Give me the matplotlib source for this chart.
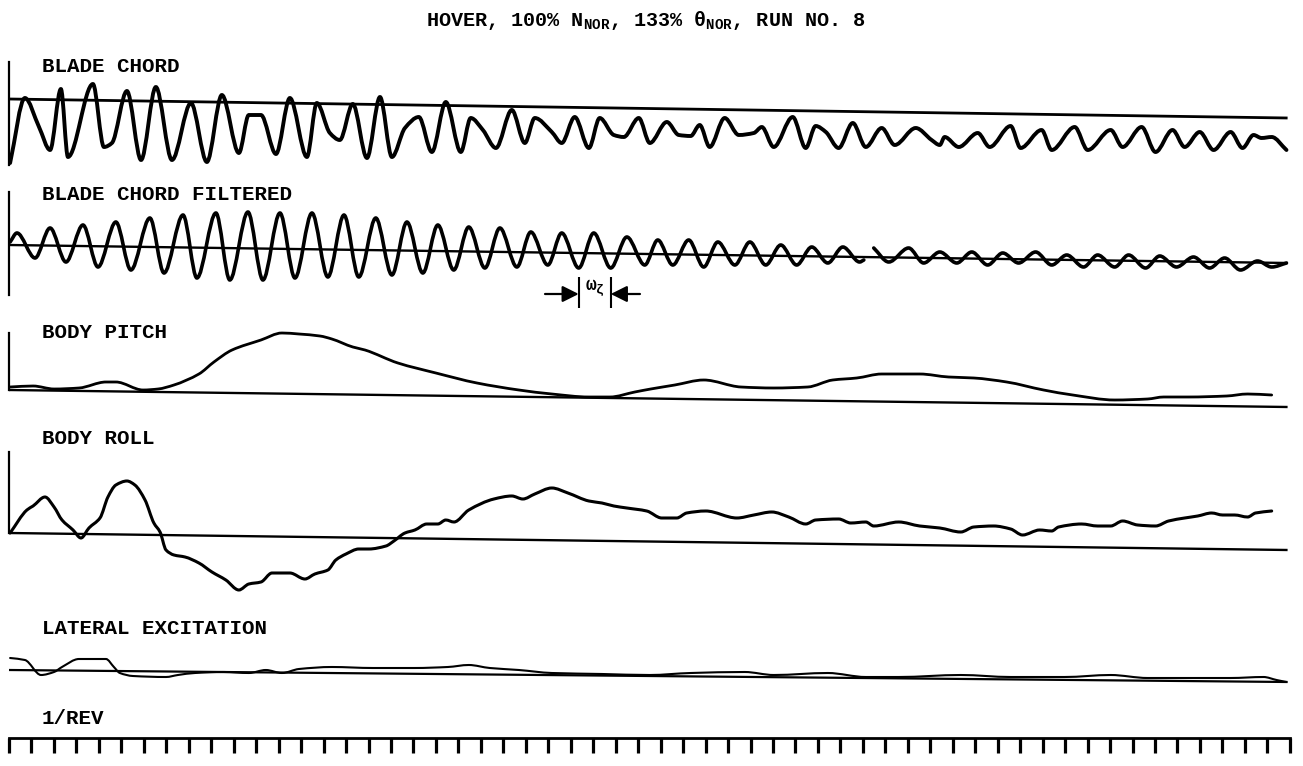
import numpy as np
import matplotlib.pyplot as plt
from matplotlib.path import Path
from matplotlib.patches import PathPatch

plt.rcParams['font.family'] = ['Liberation Mono', 'DejaVu Sans Mono']
plt.rcParams['mathtext.fontset'] = 'custom'
plt.rcParams['mathtext.rm'] = 'Liberation Mono:bold'
plt.rcParams['mathtext.it'] = 'Liberation Mono:bold'
plt.rcParams['mathtext.bf'] = 'Liberation Mono:bold'

# trace times were read on a 58-division grid of the record; the 1/REV trace has 57 revs
REC_TO_REV = 57 / 58
N_REV = 57
REVS = np.arange(N_REV + 1)

# blade chord (raw)
BLADE_T = [0.05, 0.72, 1.36, 1.86, 2.35, 2.67, 3.80, 4.30, 4.66, 5.34,
           5.98, 6.65, 7.38, 8.24, 8.96, 9.64, 10.41, 10.86, 11.41, 12.09,
           12.72, 13.49, 13.94, 14.53, 14.98, 15.57, 16.21, 16.80, 17.34, 17.93,
           18.56, 19.15, 19.78, 20.46, 20.91, 21.46, 22.05, 22.77, 23.36, 23.81,
           24.58, 25.03, 25.62, 26.26, 26.75, 27.39, 27.84, 28.52, 29.02, 29.79,
           30.33, 30.87, 31.28, 31.73, 32.41, 33.05, 33.73, 34.09, 34.63, 35.49,
           36.08, 36.53, 36.99, 37.57, 38.21, 38.80, 39.52, 40.11, 41.06, 41.78,
           42.15, 42.37, 43.01, 43.87, 44.41, 45.36, 45.81, 46.76, 47.22, 48.26,
           48.85, 49.89, 50.43, 51.29, 51.92, 52.69, 53.24, 53.92, 54.55, 55.32,
           55.86, 56.36, 56.72, 57.18, 57.85]
BLADE_D = [-64, 1, -28, -51, 10, -58, 15, -48, -44, 8,
           -61, 12, -61, -4, -63, 4, -54, -16, -16, -55,
           1, -58, -4, -34, -41, -5, -59, 2, -58, -29,
           -18, -53, -3, -53, -19, -31, -49, -11, -44, -19,
           -33, -44, -18, -49, -19, -36, -38, -19, -44, -23,
           -36, -37, -26, -48, -19, -36, -34, -28, -48, -18,
           -49, -27, -33, -49, -24, -48, -29, -46, -29, -41,
           -46, -38, -48, -34, -48, -27, -49, -31, -51, -28,
           -51, -31, -48, -28, -53, -31, -48, -33, -51, -33,
           -49, -36, -39, -38, -51]
BLADE_BASE = [0, -19]

# blade chord filtered (nan = break in the trace)
FILT_T = [0.05, 0.36, 1.18, 1.86, 2.58, 3.35, 4.03, 4.84, 5.52, 6.38,
          7.02, 7.88, 8.51, 9.37, 10.00, 10.82, 11.50, 12.27, 12.95, 13.72,
          14.44, 15.17, 15.84, 16.61, 17.34, 18.02, 18.74, 19.42, 20.14, 20.82,
          21.55, 22.23, 23.00, 23.63, 24.40, 25.03, 25.80, 26.48, 27.25, 27.98,
          28.79, 29.38, 30.06, 30.78, 31.46, 32.10, 32.87, 33.55, 34.27, 34.95,
          35.67, 36.35, 37.08, 37.76, 38.52, 38.71, np.nan,
          39.16, 39.84, 40.74, 41.42, 42.15, 42.92, 43.60, 44.32, 45.00, 45.72,
          46.49, 47.22, 47.90, 48.66, 49.30, 50.07, 50.70, 51.47, 52.11, 52.87,
          53.64, 54.37, 55.05, 55.77, 56.54, 57.18, 57.85]
FILT_D = [3, 12, -13, 17, -17, 20, -22, 23, -25, 27,
          -28, 30, -33, 32, -35, 33, -35, 32, -33, 32,
          -32, 30, -32, 27, -30, 23, -28, 20, -25, 18,
          -23, 17, -22, 13, -20, 12, -23, 12, -23, 8,
          -20, 5, -20, 5, -22, 3, -20, 3, -20, 0,
          -20, -2, -18, -2, -17, -15, np.nan,
          -3, -17, -3, -18, -7, -18, -7, -20, -8, -18,
          -7, -20, -10, -22, -10, -22, -10, -23, -11, -22,
          -12, -23, -13, -25, -16, -22, -18]
FILT_BASE = [0, -18]
OMEGA_ZETA = [25.80, 27.25]

# body pitch
PITCH_T = [0.05, 1.09, 2.04, 3.17, 4.39, 4.84, 6.07, 6.75, 7.47, 8.60,
           9.28, 10.10, 11.41, 12.36, 13.13, 14.08, 14.62, 15.57, 16.12, 17.61,
           19.33, 21.19, 23.09, 24.58, 26.26, 27.21, 28.34, 29.06, 30.15, 31.46,
           33.14, 34.63, 36.17, 37.30, 38.39, 39.52, 41.24, 42.55, 43.69, 45.18,
           46.85, 48.17, 50.07, 51.56, 52.29, 53.42, 55.14, 56.09, 57.18]
PITCH_D = [3, 4, 1, 2, 8, 8, 0, 1, 5, 16,
           28, 40, 50, 57, 56, 54, 51, 43, 40, 27,
           17, 7, 0, -4, -7, -7, -2, 1, 5, 10,
           3, 2, 3, 10, 12, 16, 16, 13, 12, 8,
           0, -5, -10, -9, -7, -7, -6, -4, -5]
PITCH_BASE = [0, -17]

# body roll
ROLL_T = [0.05, 0.81, 1.09, 1.63, 2.04, 2.40, 2.90, 3.26, 3.62, 4.12,
          4.48, 4.84, 5.34, 5.70, 6.16, 6.56, 6.84, 7.11, 7.47, 7.97,
          8.60, 9.19, 9.82, 10.41, 10.86, 11.41, 11.91, 12.72, 13.40, 13.85,
          14.44, 14.80, 15.26, 15.84, 16.30, 17.07, 17.43, 17.93, 18.38, 18.92,
          19.42, 19.78, 20.15, 20.82, 21.96, 22.77, 23.27, 23.81, 24.58, 25.31,
          26.26, 26.85, 27.39, 27.98, 28.88, 29.56, 30.24, 30.69, 31.55, 32.96,
          33.73, 34.54, 35.31, 36.08, 36.53, 37.57, 38.12, 38.80, 39.16, 40.29,
          41.24, 42.15, 43.10, 43.69, 44.59, 45.36, 45.90, 46.67, 47.22, 47.53,
          48.57, 49.30, 49.89, 50.43, 51.11, 51.92, 52.51, 53.24, 53.83, 54.46,
          54.96, 55.50, 56.09, 56.45, 57.18]
ROLL_D = [0, 23, 27, 36, 26, 13, 3, -5, 5, 15,
          36, 48, 52, 48, 33, 10, 1, -17, -22, -24,
          -30, -39, -47, -57, -51, -49, -40, -40, -46, -41,
          -37, -27, -21, -16, -16, -13, -8, 0, 3, 9,
          9, 13, 11, 23, 34, 37, 34, 39, 45, 40,
          32, 30, 27, 25, 22, 15, 15, 20, 22, 15,
          18, 21, 16, 9, 13, 14, 10, 11, 7, 11,
          7, 5, 1, 6, 7, 4, -2, 3, 2, 6,
          9, 7, 7, 12, 8, 7, 12, 15, 17, 20,
          18, 18, 16, 20, 22]
ROLL_BASE = [0, -17]

# lateral excitation
LAT_T = [0.05, 0.72, 1.45, 2.04, 2.40, 3.17, 4.39, 4.75, 5.02, 5.61,
         7.11, 7.65, 8.42, 9.73, 10.86, 11.63, 12.36, 13.13, 14.62, 16.48,
         18.38, 19.87, 20.82, 21.77, 23.09, 24.58, 26.85, 29.02, 30.87, 33.32,
         34.63, 37.08, 38.80, 40.29, 43.10, 45.36, 47.80, 49.89, 51.56, 53.42,
         55.32, 56.81, 57.40, 57.85]
LAT_D = [12, 10, -5, -2, 3, 11, 11, 3, -3, -6,
         -7, -5, -3, -2, -3, 0, -3, 1, 3, 2,
         2, 3, 5, 2, 0, -3, -4, -5, -3, -2,
         -5, -3, -7, -7, -5, -7, -7, -5, -8, -8,
         -8, -7, -10, -12]
LAT_BASE = [0, -12]
BASE_T = [0, 57.9]

W, H = 1303, 766
fig = plt.figure(figsize=(W / 100, H / 100), dpi=100)
X0, PX_PER_REV = 9, 22.47
XLIM = (-X0 / PX_PER_REV, (W - X0) / PX_PER_REV)


def panel(y0, up, down):
    # one axes per channel, 1 data unit of deflection = 1 px
    ax = fig.add_axes([0, 1 - (y0 + down) / H, 1, (up + down) / H])
    ax.set_xlim(*XLIM)
    ax.set_ylim(-down, up)
    ax.axis('off')
    ax.patch.set_alpha(0)
    return ax


def trace(ax, t, d, lw):
    t = np.asarray(t, float) * REC_TO_REV
    d = np.asarray(d, float)
    cuts = np.where(np.isnan(t))[0]
    for seg in np.split(np.arange(len(t)), cuts):
        seg = seg[~np.isnan(t[seg])]
        ts, ds = t[seg], d[seg]
        s = np.diff(ds) / np.diff(ts)
        m = np.zeros(len(ts))
        m[0], m[-1] = s[0], s[-1]
        for i in range(1, len(ts) - 1):
            if s[i - 1] * s[i] > 0:
                m[i] = 2 / (1 / s[i - 1] + 1 / s[i])
        verts, codes = [(ts[0], ds[0])], [Path.MOVETO]
        for i in range(len(ts) - 1):
            h = ts[i + 1] - ts[i]
            verts += [(ts[i] + h / 3, ds[i] + m[i] * h / 3),
                      (ts[i + 1] - h / 3, ds[i + 1] - m[i + 1] * h / 3),
                      (ts[i + 1], ds[i + 1])]
            codes += [Path.CURVE4] * 3
        ax.add_patch(PathPatch(Path(verts, codes), fill=False, lw=lw, ec='black',
                               capstyle='round', joinstyle='round'))


def baseline(ax, base, lw=1.6):
    ax.plot(np.array(BASE_T) * REC_TO_REV, base, color='black', lw=lw,
            solid_capstyle='butt')


def label(y, s):
    fig.text(42 / W, 1 - y / H, s, va='center', ha='left', fontsize=15,
             weight='bold')


fig.text(0.496, 1 - 20 / H,
         r'HOVER, 100% N$_{\mathrm{NOR}}$, 133% θ$_{\mathrm{NOR}}$, RUN NO. 8',
         ha='center', va='center', fontsize=14.5, weight='bold')

# blade chord
ax1 = panel(99, 45, 75)
ax1.plot([0, 0], [37, -66], color='black', lw=1.6)
baseline(ax1, BLADE_BASE, 2.0)
trace(ax1, BLADE_T, BLADE_D, 2.8)
label(67, 'BLADE CHORD')

# blade chord filtered
ax2 = panel(245, 60, 70)
ax2.plot([0, 0], [53, -50], color='black', lw=1.6)
baseline(ax2, FILT_BASE, 1.7)
trace(ax2, FILT_T, FILT_D, 2.6)
label(195, 'BLADE CHORD FILTERED')
oz = np.array(OMEGA_ZETA) * REC_TO_REV
ax2.vlines(oz, -63, -32, color='black', lw=1.5)
ax2.annotate('', xy=(oz[0], -49), xytext=(oz[0] - 1.5, -49),
             arrowprops=dict(arrowstyle='-|>,head_length=0.7,head_width=0.35',
                             color='black', lw=1.6, shrinkA=0, shrinkB=0,
                             mutation_scale=14))
ax2.annotate('', xy=(oz[1], -49), xytext=(oz[1] + 1.3, -49),
             arrowprops=dict(arrowstyle='-|>,head_length=0.7,head_width=0.35',
                             color='black', lw=1.6, shrinkA=0, shrinkB=0,
                             mutation_scale=14))
ax2.text(oz.mean(), -43, r'$\omega_\zeta$', ha='center', va='center', fontsize=13)

# body pitch
ax3 = panel(390, 65, 25)
ax3.plot([0, 0], [57, 0], color='black', lw=1.6)
baseline(ax3, PITCH_BASE, 1.7)
trace(ax3, PITCH_T, PITCH_D, 2.0)
label(333, 'BODY PITCH')

# body roll
ax4 = panel(533, 90, 65)
ax4.plot([0, 0], [81, 0], color='black', lw=1.6)
baseline(ax4, ROLL_BASE, 1.7)
trace(ax4, ROLL_T, ROLL_D, 2.2)
label(438, 'BODY ROLL')

# lateral excitation
ax5 = panel(670, 25, 20)
baseline(ax5, LAT_BASE, 1.6)
trace(ax5, LAT_T, LAT_D, 1.5)
label(628, 'LATERAL EXCITATION')

# 1/rev marker
ax6 = panel(738, 10, 25)
ax6.plot([0, N_REV], [0, 0], color='black', lw=2.0, solid_capstyle='projecting')
ax6.vlines(REVS, -15, 0, color='black', lw=2.3)
label(719, '1/REV')

fig.savefig('out.png', dpi=100)
